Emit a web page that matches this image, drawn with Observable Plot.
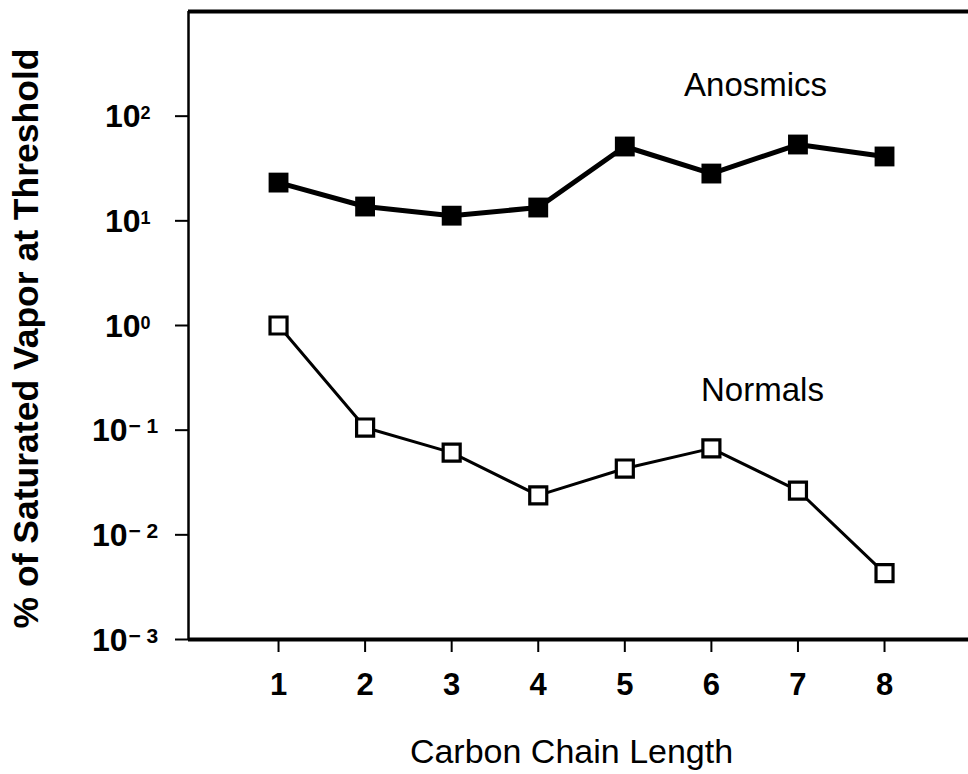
<!DOCTYPE html>
<html>
<head>
<meta charset="utf-8">
<script src="https://cdn.jsdelivr.net/npm/d3@7"></script>
<script src="https://cdn.jsdelivr.net/npm/@observablehq/plot@0.6"></script>
<style>
  body { margin: 0; background: #fff; }
  #chart svg [aria-label*="axis"] path,
  #chart svg [aria-label*="axis"] line { stroke-width: 2px; }
</style>
</head>
<body>
<div id="chart"></div>
<script>
// Carbon chain length of the odorant (x) and the threshold, as % of saturated vapor (log y)
const chainLength = [1, 2, 3, 4, 5, 6, 7, 8];
const anosmics = [23.2, 13.7, 11.2, 13.4, 51.3, 28.3, 53.6, 41.2];
const normals = [1.0, 0.106, 0.061, 0.0238, 0.043, 0.067, 0.0265, 0.0043];

// Axis ticks and their labels
const xTicks = [1, 2, 3, 4, 5, 6, 7, 8];
const decadeTicks = [1e-3, 1e-2, 1e-1, 1e0, 1e1, 1e2];
const exponentOf = d => Math.round(Math.log10(d));

// Series names written beside each curve, with their anchor in data units
const seriesNames = ["Anosmics", "Normals"];
const nameAnchorX = [6.51, 6.59];
const nameAnchorY = [196, 0.239];

const xAxisTitle = "Carbon Chain Length";
const yAxisTitle = "% of Saturated Vapor at Threshold";

const xDomain = [-0.04, 8.97];
const yDomain = [1e-3, 1e3];

const anosmicRows = chainLength.map((x, i) => ({x, y: anosmics[i]}));
const normalRows = chainLength.map((x, i) => ({x, y: normals[i]}));
const nameRows = seriesNames.map((name, i) => ({name, x: nameAnchorX[i], y: nameAnchorY[i]}));
const posDecades = decadeTicks.filter(d => exponentOf(d) >= 0);
const negDecades = decadeTicks.filter(d => exponentOf(d) < 0);

const font = "'Liberation Sans', Arial, Helvetica, sans-serif";

const chart = Plot.plot({
  width: 968,
  height: 774,
  marginLeft: 188,
  marginRight: 0,
  marginTop: 11,
  marginBottom: 135,
  style: {fontFamily: font, fontSize: "31px", fontWeight: "bold", background: "#fff", color: "#000", overflow: "visible"},
  x: {domain: xDomain, ticks: xTicks, tickSize: 13, tickPadding: 20, tickFormat: d => String(d), label: null},
  y: {type: "log", domain: yDomain, ticks: decadeTicks, tickSize: 13, tickFormat: () => "", label: null},
  marks: [
    // frame: top, bottom and left lines
    Plot.ruleY([yDomain[1]], {stroke: "#000", strokeWidth: 4}),
    Plot.ruleY([yDomain[0]], {stroke: "#000", strokeWidth: 4}),
    Plot.ruleX([xDomain[0]], {stroke: "#000", strokeWidth: 2.5}),

    // y tick labels: "10" with a raised exponent
    Plot.text(posDecades, {y: d => d, frameAnchor: "left", lineAnchor: "middle", text: () => "10", textAnchor: "end", dx: -48, dy: 1, fontSize: 32, fontWeight: "bold"}),
    Plot.text(posDecades, {y: d => d, frameAnchor: "left", lineAnchor: "middle", text: d => String(exponentOf(d)), textAnchor: "start", dx: -48, dy: -2.5, fontSize: 18, fontWeight: "bold"}),
    Plot.text(negDecades, {y: d => d, frameAnchor: "left", lineAnchor: "middle", text: () => "10", textAnchor: "end", dx: -61, dy: 1, fontSize: 32, fontWeight: "bold"}),
    Plot.text(negDecades, {y: d => d, frameAnchor: "left", lineAnchor: "middle", text: d => "\u2212 " + String(-exponentOf(d)), textAnchor: "start", dx: -60, dy: -3.5, fontSize: 21, fontWeight: "bold"}),

    // anosmic thresholds: thick line, filled squares
    Plot.line(anosmicRows, {x: "x", y: "y", stroke: "#000", strokeWidth: 5}),
    Plot.dot(anosmicRows, {x: "x", y: "y", symbol: "square", r: 11.2, fill: "#000", stroke: "none"}),

    // normal thresholds: thinner line, open squares
    Plot.line(normalRows, {x: "x", y: "y", stroke: "#000", strokeWidth: 3}),
    Plot.dot(normalRows, {x: "x", y: "y", symbol: "square", r: 9.6, fill: "#fff", stroke: "#000", strokeWidth: 3.2}),

    // series names
    Plot.text(nameRows, {x: "x", y: "y", text: "name", fontSize: 33, fontWeight: "normal"}),

    // axis titles
    Plot.text([xAxisTitle], {frameAnchor: "bottom", lineAnchor: "middle", textAnchor: "middle", text: d => d, dx: -7, dy: 113, fontSize: 34, fontWeight: "normal"}),
    Plot.text([yAxisTitle], {frameAnchor: "left", lineAnchor: "middle", textAnchor: "middle", text: d => d, rotate: -90, dx: -162, dy: 13, fontSize: 35.5, fontWeight: "bold"})
  ]
});

document.getElementById("chart").appendChild(chart);
</script>
</body>
</html>
